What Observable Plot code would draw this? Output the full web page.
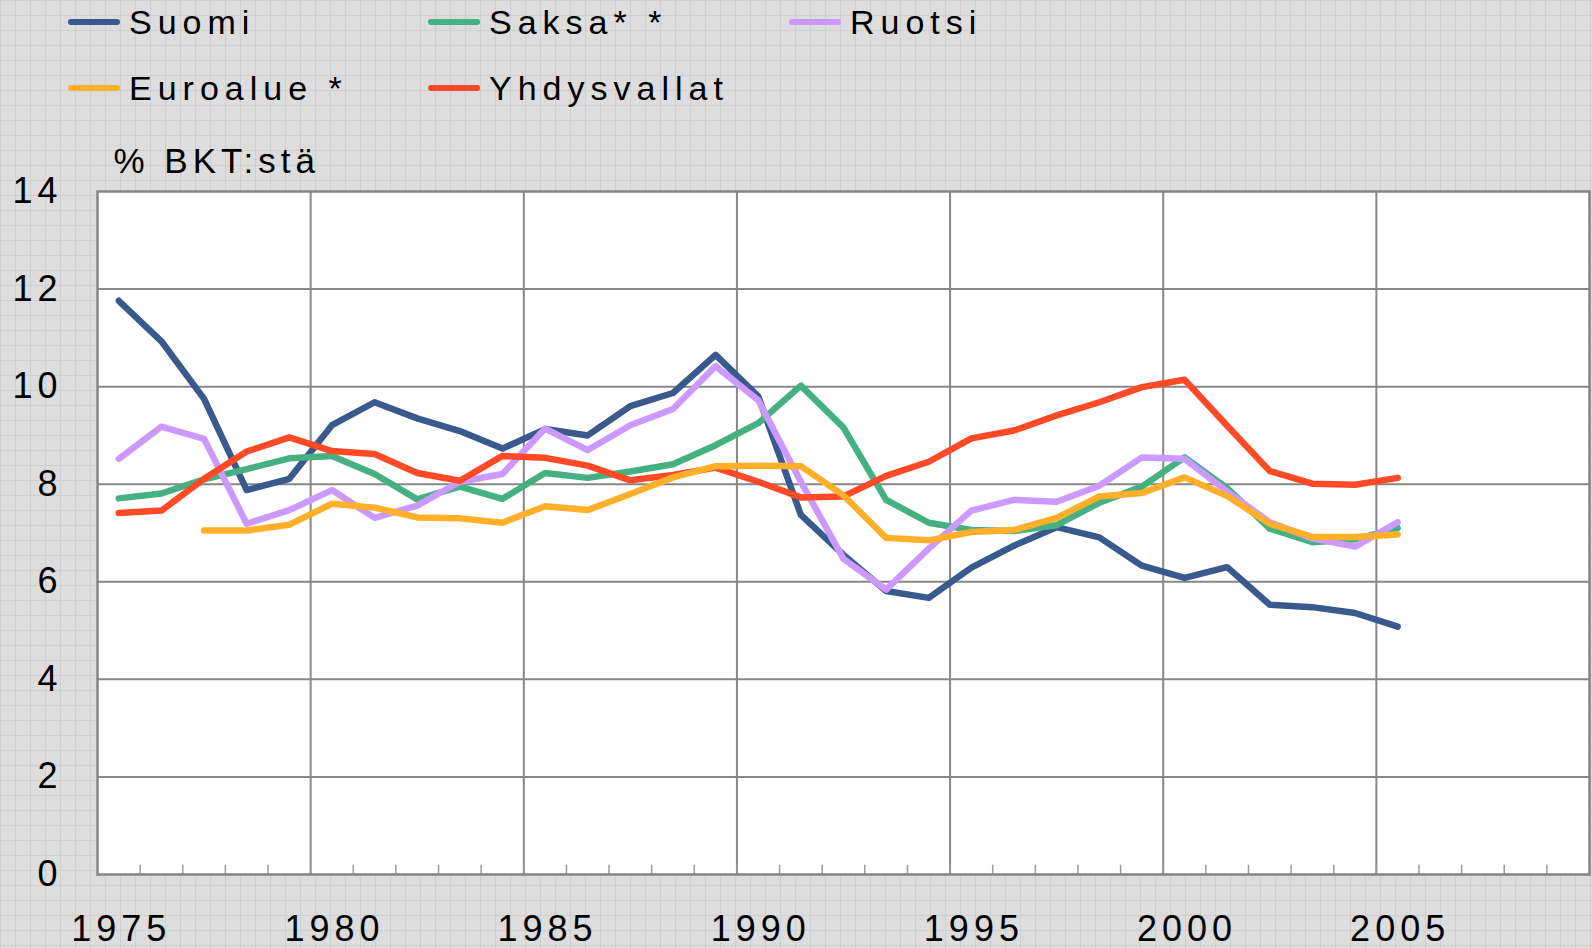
<!DOCTYPE html>
<html><head><meta charset="utf-8">
<script src="https://cdn.jsdelivr.net/npm/d3@7"></script>
<script src="https://cdn.jsdelivr.net/npm/@observablehq/plot@0.6"></script>
<style>
html,body{margin:0;padding:0;}
body{width:1592px;height:948px;overflow:hidden;background-color:#dddddd;
background-image:linear-gradient(#cfcfcf 1px,transparent 1px),linear-gradient(90deg,#cfcfcf 1px,transparent 1px);
background-size:15px 15px;font-family:"Liberation Sans",Arial,sans-serif;position:relative;}
#legend{position:absolute;left:0;top:0;width:1592px;height:120px;}
.item{position:absolute;display:flex;align-items:center;height:40px;}
.swatch{width:52px;height:6px;border-radius:3px;margin-right:9px;}
.lbl{font-size:34px;letter-spacing:6px;color:#000;white-space:nowrap;}
#chart{position:absolute;left:0;top:120px;}
#chart svg text{letter-spacing:5px;}
</style></head>
<body>
<div id="legend"></div>
<div id="chart"></div>
<script>
// ---- data ----
const years = [1975,1976,1977,1978,1979,1980,1981,1982,1983,1984,1985,1986,1987,1988,1989,1990,1991,1992,1993,1994,1995,1996,1997,1998,1999,2000,2001,2002,2003,2004,2005];
const suomi    = [11.76,10.93,9.75,7.88,8.11,9.21,9.68,9.35,9.09,8.73,9.13,9.00,9.60,9.87,10.65,9.80,7.37,6.55,5.81,5.67,6.29,6.74,7.12,6.91,6.33,6.08,6.30,5.53,5.48,5.36,5.08];
const saksa    = [7.71,7.81,8.10,8.31,8.53,8.58,8.21,7.69,7.95,7.70,8.23,8.13,8.26,8.41,8.80,9.25,10.02,9.16,7.68,7.21,7.06,7.04,7.16,7.62,7.95,8.55,7.92,7.09,6.81,6.87,7.10];
const ruotsi   = [8.52,9.18,8.93,7.19,7.47,7.88,7.31,7.56,8.05,8.21,9.14,8.70,9.21,9.54,10.42,9.72,8.05,6.47,5.84,6.68,7.46,7.68,7.64,7.97,8.55,8.52,7.85,7.22,6.89,6.72,7.22];
const euroalue = [null,null,7.05,7.05,7.17,7.60,7.52,7.32,7.30,7.21,7.55,7.47,7.80,8.14,8.37,8.38,8.37,7.77,6.90,6.85,7.02,7.06,7.31,7.75,7.82,8.14,7.76,7.19,6.92,6.92,6.97];
const yhdysvallat = [7.41,7.46,8.11,8.67,8.96,8.68,8.62,8.23,8.07,8.58,8.54,8.38,8.08,8.19,8.34,8.05,7.73,7.75,8.17,8.46,8.94,9.10,9.41,9.68,9.99,10.14,9.20,8.27,8.01,7.99,8.13];

const seriesNames  = ["Suomi","Saksa* *","Ruotsi","Euroalue *","Yhdysvallat"];
const seriesColors = ["#3a5a8e","#45b183","#cc99ff","#ffb02b","#ff4a28"];
const seriesValues = [suomi, saksa, ruotsi, euroalue, yhdysvallat];
const drawOrder    = ["Suomi","Saksa* *","Ruotsi","Yhdysvallat","Euroalue *"];

const axisCategories = [1975,1976,1977,1978,1979,1980,1981,1982,1983,1984,1985,1986,1987,1988,1989,1990,1991,1992,1993,1994,1995,1996,1997,1998,1999,2000,2001,2002,2003,2004,2005,2006,2007,2008,2009];
const xTickLabels = [1975,1980,1985,1990,1995,2000,2005];
const yTicks = [0,2,4,6,8,10,12,14];
const yLabel = "% BKT:stä";

// ---- table ----
const rows = [];
for (const name of drawOrder) {
  const vals = seriesValues[seriesNames.indexOf(name)];
  years.forEach((yr, i) => { if (vals[i] != null) rows.push({series: name, year: yr, value: vals[i]}); });
}

// ---- legend ----
const legendPos = [[68,2],[428,2],[789,2],[68,68],[428,68]];
const legend = document.getElementById("legend");
seriesNames.forEach((name, i) => {
  const it = document.createElement("div");
  it.className = "item";
  it.style.left = legendPos[i][0] + "px";
  it.style.top = legendPos[i][1] + "px";
  it.innerHTML = `<span class="swatch" style="background:${seriesColors[i]}"></span><span class="lbl">${name}</span>`;
  legend.appendChild(it);
});

// ---- chart ----
const first = axisCategories[0], last = axisCategories[axisCategories.length - 1];
const boundaries = axisCategories.slice(1).map(c => c - 0.5);
const majorLines = xTickLabels.slice(1).map(c => c - 0.5);

const chart = Plot.plot({
  width: 1592,
  height: 828,
  marginTop: 71,
  marginBottom: 74,
  marginLeft: 97,
  marginRight: 3,
  style: {fontFamily: "'Liberation Sans', Arial, sans-serif", fontSize: "36px", color: "#000", background: "transparent", overflow: "visible"},
  x: {type: "linear", domain: [first - 0.5, last + 0.5]},
  y: {domain: [0, 14]},
  color: {domain: seriesNames, range: seriesColors},
  marks: [
    Plot.frame({fill: "white", stroke: "none"}),
    Plot.ruleY(yTicks.slice(1, -1), {stroke: "#878787", strokeWidth: 2}),
    Plot.ruleX(majorLines, {stroke: "#878787", strokeWidth: 2}),
    Plot.ruleX(boundaries, {y1: 0, y2: 0.19, stroke: "#9a9a9a", strokeWidth: 1.5}),
    Plot.line(rows, {x: "year", y: "value", z: "series", stroke: "series", strokeWidth: 6.5, strokeLinejoin: "round", strokeLinecap: "round"}),
    Plot.frame({stroke: "#858585", strokeWidth: 2.5}),
    Plot.axisY({ticks: yTicks, tickSize: 0, tickPadding: 35, fontSize: 36, label: null}),
    Plot.axisX({ticks: xTickLabels, tickSize: 0, tickPadding: 41, fontSize: 36, label: null, tickFormat: d => String(d), dx: 2.5}),
    Plot.text([yLabel], {frameAnchor: "top-left", text: d => d, dx: 16, dy: -30, textAnchor: "start", lineAnchor: "middle", fontSize: 35, style: "letter-spacing:6.5px"})
  ]
});
document.getElementById("chart").appendChild(chart);
</script>
</body></html>
